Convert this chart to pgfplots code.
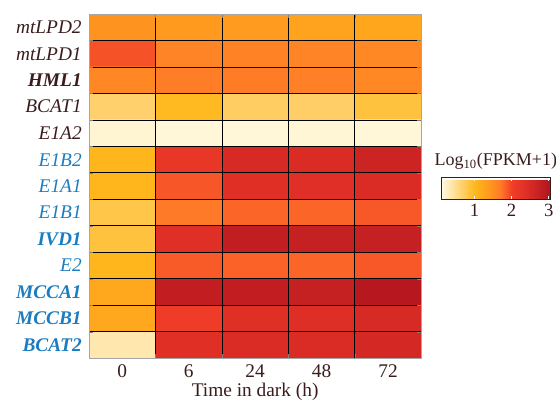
\documentclass[border=0pt]{standalone}
\usepackage{pgfplots}
\pgfplotsset{compat=1.18}
\usepackage{fontspec}
\setmainfont{Liberation Serif}
\definecolor{cLab}{HTML}{3B1C1C}
\definecolor{cBlue}{HTML}{1B7DC0}
\newcommand{\gn}[1]{\textcolor{cLab}{\textit{#1}}}
\newcommand{\gb}[1]{\textcolor{cLab}{\textbf{\textit{#1}}}}
\newcommand{\bn}[1]{\textcolor{cBlue}{\textit{#1}}}
\newcommand{\bb}[1]{\textcolor{cBlue}{\textbf{\textit{#1}}}}

\pgfplotstableread{
x y c
0 0 1.45
1 0 1.38
2 0 1.36
3 0 1.27
4 0 1.22
0 1 1.90
1 1 1.60
2 1 1.62
3 1 1.60
4 1 1.57
0 2 1.57
1 2 1.67
2 2 1.68
3 2 1.64
4 2 1.57
0 3 0.65
1 3 0.98
2 3 0.70
3 3 0.68
4 3 0.85
0 4 0.18
1 4 0.15
2 4 0.15
3 4 0.16
4 4 0.15
0 5 1.02
1 5 2.20
2 5 2.50
3 5 2.45
4 5 2.65
0 6 1.02
1 6 1.88
2 6 2.35
3 6 2.38
4 6 2.45
0 7 0.80
1 7 1.70
2 7 1.80
3 7 1.80
4 7 1.87
0 8 0.85
1 8 2.38
2 8 2.80
3 8 2.75
4 8 2.75
0 9 1.02
1 9 1.86
2 9 1.82
3 9 1.80
4 9 1.87
0 10 1.20
1 10 2.80
2 10 2.80
3 10 2.75
4 10 2.95
0 11 1.20
1 11 2.05
2 11 2.35
3 11 2.40
4 11 2.50
0 12 0.35
1 12 2.35
2 12 2.45
3 12 2.45
4 12 2.55
}\heat

\begin{document}
\begin{tikzpicture}
\begin{axis}[
  name=ax,
  scale only axis,
  width=249pt, height=258pt,
  font=\fontsize{14.5}{16}\selectfont,
  xmin=-0.5, xmax=4.5, ymin=-0.5, ymax=12.5,
  y dir=reverse,
  enlargelimits=false,
  axis on top,
  axis line style={gray!70},
  major tick length=0pt,
  xtick={0,1,2,3,4},
  xticklabels={0,6,24,48,72},
  x tick label style={text=cLab, yshift=-1pt},
  ytick={0,...,12},
  yticklabels={\gn{mtLPD2},\gn{mtLPD1},\gb{HML1},\gn{BCAT1},\gn{E1A2},
    \bn{E1B2},\bn{E1A1},\bn{E1B1},\bb{IVD1},\bn{E2},\bb{MCCA1},\bb{MCCB1},\bb{BCAT2}},
  yticklabel style={xshift=-2pt},
  minor xtick={0.5,1.5,2.5,3.5},
  minor ytick={0.5,1.5,...,11.5},
  xminorgrids, yminorgrids,
  minor grid style={black, line width=0.6pt},
  xlabel={Time in dark (h)},
  xlabel style={text=cLab, inner sep=1pt},
  colormap={heat}{
    rgb255(1cm)=(255,251,227);
    rgb255(6cm)=(255,212,120);
    rgb255(10cm)=(255,184,28);
    rgb255(14cm)=(255,152,30);
    rgb255(17cm)=(255,122,40);
    rgb255(20cm)=(242,62,40);
    rgb255(24cm)=(222,46,38);
    rgb255(30.5cm)=(176,20,30)},
  point meta min=0.1, point meta max=3.05,
  colorbar horizontal,
  colorbar style={
    at={(1.06,0.526)}, anchor=north west,
    width=82pt, height=17pt,
    scale only axis,
    xtick={1,2,3},
    axis line style={cLab, line width=0.6pt},
    xtick style={draw=white, line width=0.6pt},
    major tick length=3pt,
    tick align=inside,
    xtick pos=both,
    xticklabel pos=lower,
    x tick label style={font=\fontsize{14}{16}\selectfont, text=cLab},
    /pgf/number format/assume math mode=true,
    title={\textcolor{cLab}{Log\textsubscript{10}(FPKM+1)}},
    title style={font=\fontsize{13.5}{15}\selectfont, yshift=-4pt},
  },
]
\addplot[matrix plot*, mesh/cols=5, mesh/rows=13, point meta=explicit]
  table[x=x, y=y, meta=c] {\heat};
\end{axis}
\pgfresetboundingbox
\path ([shift={(-66.75pt,-33pt)}]ax.south west) rectangle ([shift={(350pt,268.5pt)}]ax.south west);
\end{tikzpicture}
\end{document}
